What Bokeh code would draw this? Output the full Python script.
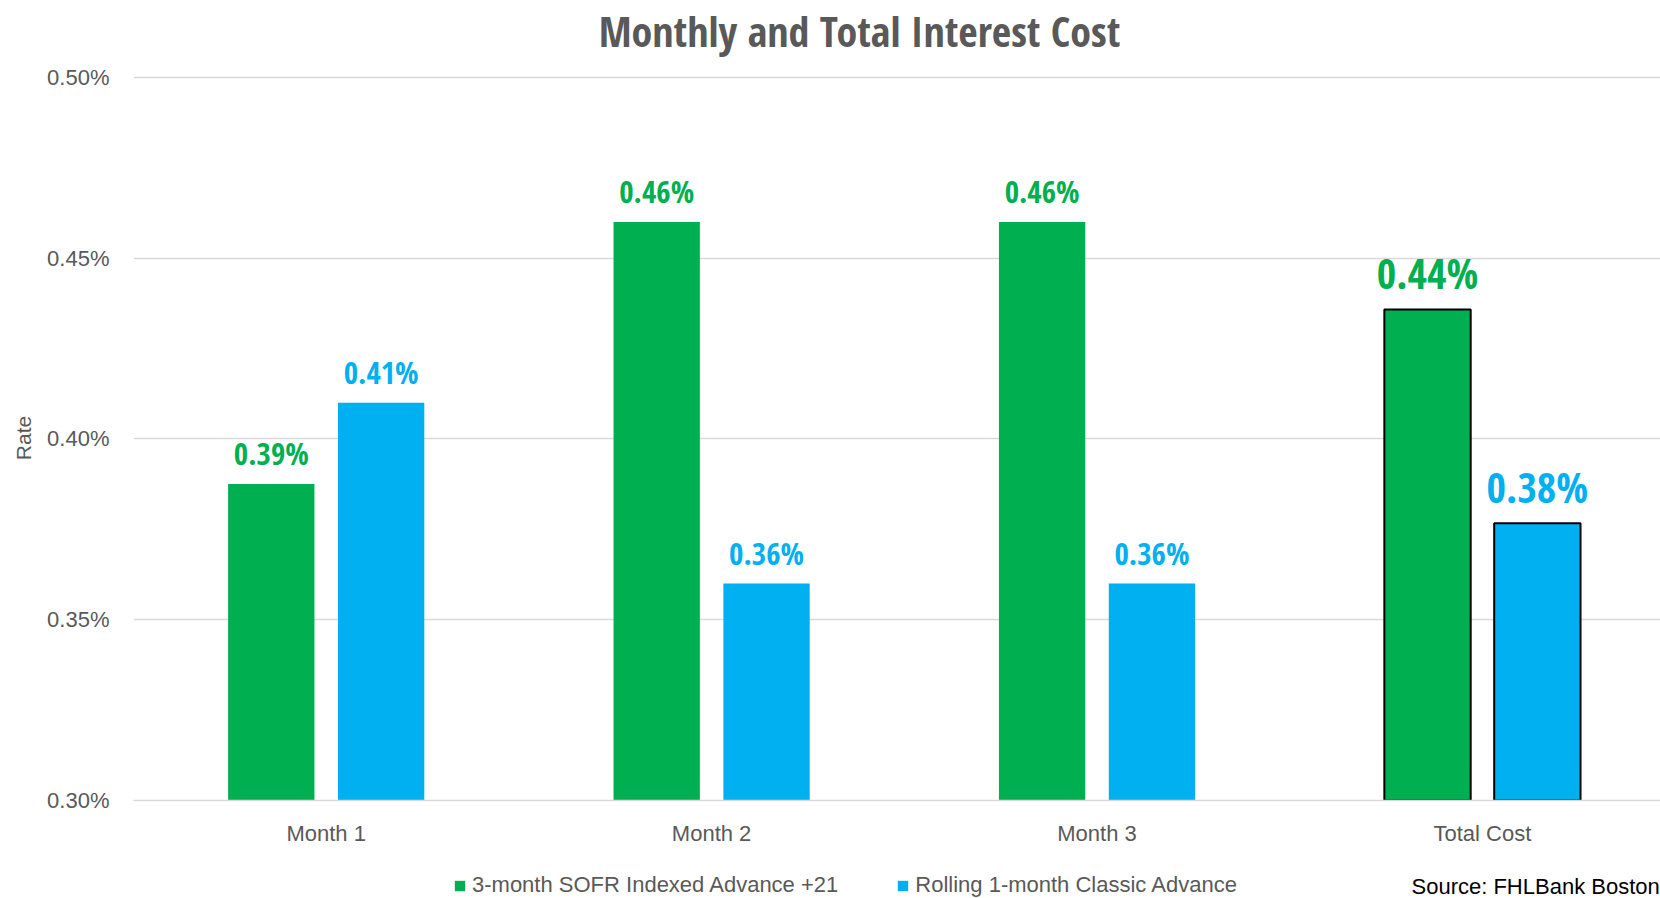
from bokeh.plotting import figure
from bokeh.layouts import column
from bokeh.models import (Range1d, FixedTicker, PrintfTickFormatter, Label, Legend,
                          LegendItem, ColumnDataSource, CDSView, IndexFilter)
from bokeh.transform import dodge
from bokeh.core.properties import value
from bokeh.embed import file_html
from bokeh.resources import INLINE

# ---- data ----
categories = ["Month 1", "Month 2", "Month 3", "Total Cost"]
sofr_rates = [0.3875, 0.46, 0.46, 0.4358]
classic_rates = [0.41, 0.36, 0.36, 0.3767]
series_names = ["3-month SOFR Indexed Advance +21", "Rolling 1-month Classic Advance"]
y_ticks = [0.30, 0.35, 0.40, 0.45, 0.50]
title_text = "Monthly and Total Interest Cost"
source_text = "Source: FHLBank Boston"

FONT = "Liberation Sans"
BFONT = "Open Sans Condensed"
GREEN = "#00B050"
BLUE = "#00B0F0"
GRAY = "#595959"
GRID = "#D9D9D9"

W = 1660
LEFT = 133
H_TOP, H_MAIN, H_BOT = 62, 810, 26

n = len(categories)
centers = [i + 0.5 for i in range(n)]
is_total = [c == "Total Cost" for c in categories]
month_idx = [i for i in range(n) if not is_total[i]]
total_idx = [i for i in range(n) if is_total[i]]

src = ColumnDataSource(dict(
    x=centers,
    sofr=sofr_rates,
    classic=classic_rates,
    sofr_lbl=[f"{v:.2f}%" for v in sofr_rates],
    classic_lbl=[f"{v:.2f}%" for v in classic_rates],
    line_alpha=[1.0 if t else 0.0 for t in is_total],
))


def strip(h):
    f = figure(width=W, height=h, output_backend="svg", toolbar_location=None,
               x_range=Range1d(LEFT, W), y_range=Range1d(0, h),
               x_axis_location=None, y_axis_location=None,
               min_border_left=LEFT, min_border_right=0, min_border_top=0,
               min_border_bottom=0)
    f.outline_line_color = None
    f.grid.visible = False
    return f


# ---- title strip ----
p0 = strip(H_TOP)
p0.add_layout(Label(x=859, y=32, text=title_text, text_align="center",
                    text_baseline="alphabetic", text_font=BFONT, text_font_size="42px",
                    text_font_style="bold", text_color=GRAY))

# ---- main chart ----
p = figure(width=W, height=H_MAIN, output_backend="svg", toolbar_location=None,
           x_range=Range1d(0, 3.962), y_range=Range1d(0.30, 0.5005),
           min_border_left=LEFT, min_border_right=0, min_border_top=13,
           min_border_bottom=72)
p.outline_line_color = None
p.xgrid.visible = False
p.ygrid.grid_line_color = GRID
p.ygrid.grid_line_width = 1.5

off = 0.1425
bw = 0.224
r1 = p.vbar(x=dodge("x", -off, range=p.x_range), top="sofr", bottom=0.30, width=bw,
            source=src, fill_color=GREEN, line_color="black", line_width=2,
            line_alpha="line_alpha")
r2 = p.vbar(x=dodge("x", off, range=p.x_range), top="classic", bottom=0.30, width=bw,
            source=src, fill_color=BLUE, line_color="black", line_width=2,
            line_alpha="line_alpha")

for idx, size, yo in [(month_idx, "31px", -31), (total_idx, "42px", -37)]:
    view = CDSView(filter=IndexFilter(idx))
    p.text(x=dodge("x", -off, range=p.x_range), y="sofr", text="sofr_lbl", source=src,
           view=view, text_font=value(BFONT), text_font_style="bold",
           text_font_size=size, text_color=GREEN, text_align="center",
           text_baseline="alphabetic", y_offset=yo)
    p.text(x=dodge("x", off, range=p.x_range), y="classic", text="classic_lbl",
           source=src, view=view, text_font=value(BFONT), text_font_style="bold",
           text_font_size=size, text_color=BLUE, text_align="center",
           text_baseline="alphabetic", y_offset=yo)

# y axis
ya = p.yaxis[0]
ya.ticker = FixedTicker(ticks=y_ticks)
ya.formatter = PrintfTickFormatter(format="%.2f%%")
ya.axis_line_color = None
ya.major_tick_line_color = None
ya.minor_tick_line_color = None
ya.major_label_text_font = FONT
ya.major_label_text_font_size = "22px"
ya.major_label_text_color = GRAY
ya.major_label_standoff = 18
ya.axis_label = "Rate"
ya.axis_label_text_font = FONT
ya.axis_label_text_font_size = "21px"
ya.axis_label_text_font_style = "normal"
ya.axis_label_text_color = GRAY
ya.axis_label_standoff = 9

# x axis
xa = p.xaxis[0]
xa.ticker = FixedTicker(ticks=centers)
xa.major_label_overrides = {c: lab for c, lab in zip(centers, categories)}
xa.axis_line_color = GRID
xa.axis_line_width = 1.5
xa.major_tick_line_color = None
xa.minor_tick_line_color = None
xa.major_tick_out = 0
xa.major_label_standoff = 20
xa.major_label_text_font = FONT
xa.major_label_text_font_size = "22px"
xa.major_label_text_color = GRAY

# ---- bottom strip: legend and source ----
p2 = strip(H_BOT)
g1 = p2.vbar(x="x", top="sofr", width=1, source=src, fill_color=GREEN,
             line_alpha=0, visible=False)
g2 = p2.vbar(x="x", top="classic", width=1, source=src, fill_color=BLUE,
             line_alpha=0, visible=False)
legend = Legend(items=[LegendItem(label=series_names[0], renderers=[g1]),
                       LegendItem(label=series_names[1], renderers=[g2])],
                orientation="horizontal", location=(453 - LEFT, 0),
                glyph_width=13, glyph_height=13, label_standoff=6, spacing=58,
                padding=0, margin=0, border_line_color=None,
                background_fill_alpha=0, label_text_font=FONT,
                label_text_font_size="22px", label_text_color=GRAY,
                label_height=26, click_policy="none")
p2.add_layout(legend)
p2.add_layout(Label(x=1411, y=0, text=source_text, text_align="left",
                    text_baseline="bottom", text_font=FONT, text_font_size="22px",
                    text_color="black"))

open("out.html", "w").write(file_html(column(p0, p, p2, spacing=0), INLINE))
